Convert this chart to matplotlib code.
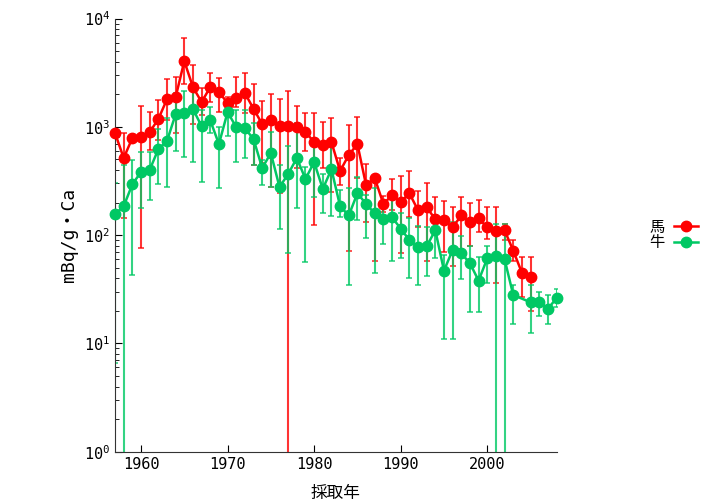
import numpy as np
import matplotlib
matplotlib.use("Agg")
from matplotlib import pyplot as plt

plt.rcParams['font.family'] = ['DejaVu Sans Mono', 'Noto Sans CJK JP']
plt.rcParams['mathtext.fontset'] = 'custom'
plt.rcParams['mathtext.rm'] = 'DejaVu Sans Mono'

# 馬 (horse): 1957-2005
horse_years = list(range(1957, 2006))
horse_val = [877, 515, 790, 805, 895, 1180, 1800, 1880, 4050, 2330,
             1695, 2330, 2100, 1660, 1845, 2050, 1470, 1060, 1150, 1015,
             1015, 1000, 895, 724, 680, 724, 391, 550, 693, 290,
             337, 194, 234, 202, 244, 170, 181, 140, 137, 118,
             152, 131, 143, 118, 109, 111, 72, 45, 41]
horse_low = [850, 143, 770, 76, 608, 750, 1150, 877, 2500, 1060,
             1280, 1695, 1370, 1480, 1530, 1340, 444, 462, 278, 244,
             0.3, 420, 600, 123, 415, 250, 290, 72, 335, 131,
             58, 163, 170, 68, 146, 118, 58, 130, 70, 52,
             74, 80, 107, 92, 36, 90, 58, 27, 20]
horse_high = [900, 877, 810, 1550, 1370, 1766, 2750, 2880, 6600, 3700,
              2270, 3140, 2800, 1880, 2880, 3140, 2500, 1730, 2000, 1800,
              2140, 1550, 1340, 1340, 1110, 1200, 520, 1040, 1230, 450,
              345, 228, 330, 350, 390, 255, 300, 225, 205, 181,
              225, 198, 210, 181, 181, 126, 90, 63, 63]

# 牛 (cattle): 1957-2003, 2005-2008
cow_years = list(range(1957, 2004)) + [2005, 2006, 2007, 2008]
cow_val = [156, 185, 295, 383, 400, 623, 740, 1310, 1340, 1460,
           1015, 1150, 693, 1370, 995, 973, 771, 417, 573, 278,
           367, 515, 330, 473, 267, 407, 185, 152, 244, 194,
           159, 140, 146, 115, 90, 77, 79, 111, 47, 73,
           68, 55, 38, 61, 64, 60, 28, 24, 24, 21, 26]
cow_low = [6.6, 0.3, 43, 178, 211, 295, 277, 595, 525, 473,
           310, 877, 271, 820, 473, 515, 444, 290, 278, 113,
           68, 178, 56, 227, 159, 150, 146, 35, 137, 95,
           45, 83, 58, 61, 40, 35, 42, 61, 11, 11,
           39, 19.5, 19.5, 36, 0.3, 0.3, 15, 12.4, 18, 15, 21.5]
cow_high = [300, 444, 490, 585, 585, 952, 1200, 2050, 2150, 2480,
            1430, 1530, 995, 1460, 1430, 1430, 1090, 494, 895, 444,
            667, 1090, 425, 700, 367, 680, 260, 270, 345, 234,
            270, 178, 245, 160, 143, 121, 118, 153, 65, 131,
            98, 80, 63, 79, 128, 126, 35, 35, 30, 28, 32]

red = '#ff0000'
green = '#00c864'

fig = plt.figure(figsize=(7.19, 5.03), dpi=100)
ax = fig.add_axes([0.16, 0.102, 0.614, 0.861])


def draw(years, val, low, high, color, label):
    v = np.array(val, dtype=float)
    err = [v - np.array(low), np.array(high) - v]
    ax.errorbar(years, v, yerr=err, fmt='none', ecolor=color, elinewidth=1.5,
                capsize=2, capthick=1.2, alpha=0.8)
    ax.plot(years, v, '-o', color=color, lw=1.8, ms=7.5, label=label,
            clip_on=False, zorder=3)


draw(horse_years, horse_val, horse_low, horse_high, red, '馬')
draw(cow_years, cow_val, cow_low, cow_high, green, '牛')

ax.set_yscale('log')
ax.set_ylim(1, 1e4)
ax.set_xlim(1957, 2008)
ax.set_xticks([1960, 1970, 1980, 1990, 2000])
ax.spines['top'].set_visible(False)
ax.spines['right'].set_visible(False)
for s in ('left', 'bottom'):
    ax.spines[s].set_color('#333333')
ax.tick_params(which='both', direction='in', labelsize=11)
ax.tick_params(which='major', length=5)
ax.tick_params(which='minor', length=3)
ax.set_xlabel('採取年', fontsize=12, labelpad=9)
ax.set_ylabel('mBq/g・Ca', fontsize=13, labelpad=4)

fig.legend(loc='center right', bbox_to_anchor=(0.99, 0.533), frameon=False,
           markerfirst=False, fontsize=11, handlelength=1.6, handletextpad=0.6,
           labelspacing=0.05)

fig.savefig('out.png', dpi=100)
